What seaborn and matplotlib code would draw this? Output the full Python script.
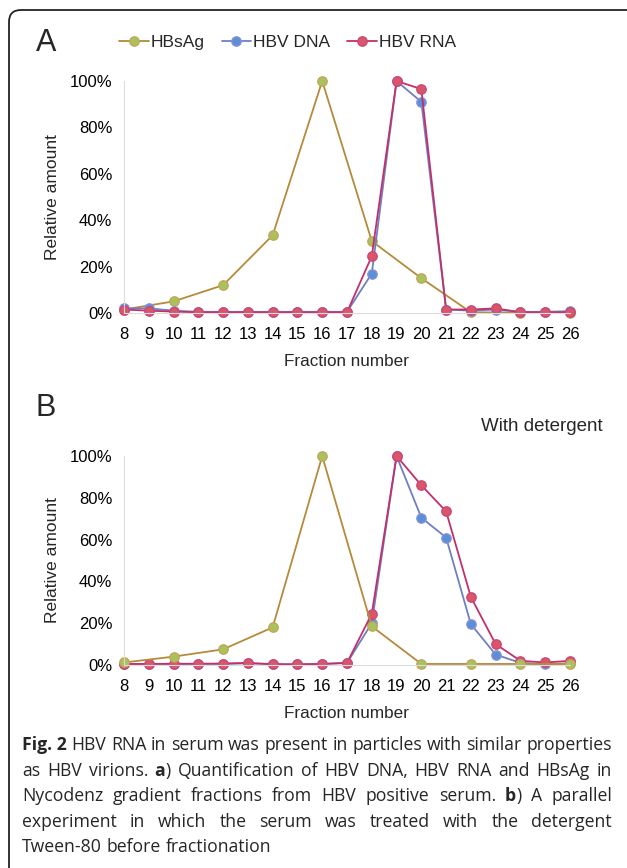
import numpy as np
import pandas as pd
import matplotlib
matplotlib.use("Agg")
import matplotlib.pyplot as plt
from matplotlib.ticker import PercentFormatter
from matplotlib.patches import FancyBboxPatch
from matplotlib.transforms import IdentityTransform
import seaborn as sns

# fractions on the gradient
fractions = list(range(8, 27))
hbsag_fracs = [8, 10, 12, 14, 16, 18, 20, 22, 24, 26]

# panel A: without detergent (relative amount, 1 = 100%)
a_hbsag = [0.015, 0.05, 0.12, 0.335, 1.00, 0.31, 0.15, 0.003, 0.002, 0.002]
a_dna = [0.02, 0.02, 0.01, 0.005, 0.005, 0.005, 0.005, 0.005, 0.005, 0.005,
         0.17, 1.00, 0.91, 0.015, 0.01, 0.015, 0.005, 0.005, 0.008]
a_rna = [0.015, 0.01, 0.006, 0.003, 0.003, 0.003, 0.003, 0.003, 0.003, 0.003,
         0.245, 1.00, 0.965, 0.015, 0.015, 0.02, 0.003, 0.003, 0.003]

# panel B: with detergent
b_hbsag = [0.012, 0.04, 0.075, 0.18, 1.00, 0.185, 0.005, 0.005, 0.005, 0.005]
b_dna = [0.005, 0.005, 0.005, 0.005, 0.005, 0.008, 0.005, 0.003, 0.005, 0.01,
         0.20, 1.00, 0.705, 0.61, 0.195, 0.05, 0.01, 0.003, 0.008]
b_rna = [0.005, 0.005, 0.006, 0.006, 0.007, 0.01, 0.003, 0.003, 0.005, 0.01,
         0.245, 1.00, 0.86, 0.735, 0.325, 0.10, 0.02, 0.012, 0.02]

series_names = ["HBsAg", "HBV DNA", "HBV RNA"]
line_col = {"HBsAg": "#b58a3a", "HBV DNA": "#6f7fc4", "HBV RNA": "#c2306c"}
face_col = {"HBsAg": "#a9c25e", "HBV DNA": "#5b8fd6", "HBV RNA": "#d9566a"}
edge_col = {"HBsAg": "#c4a457", "HBV DNA": "#8a94d2", "HBV RNA": "#c8457a"}

sns.set_style("white")
plt.rcParams["font.family"] = ["Liberation Sans", "DejaVu Sans"]

W, H = 627, 868
fig = plt.figure(figsize=(W / 100, H / 100), dpi=100)


def frame(left, right, top, bottom):
    return [left / W, 1 - bottom / H, (right - left) / W, (bottom - top) / H]


def draw_panel(ax, data, order):
    for name in order:
        x, y = data[name]
        df = pd.DataFrame({"fraction": x, "amount": y})
        sns.lineplot(data=df, x="fraction", y="amount", ax=ax,
                     color=line_col[name], lw=1.3, marker="o", markersize=6.8,
                     markerfacecolor=face_col[name], markeredgecolor=edge_col[name],
                     markeredgewidth=0.9, clip_on=False, label=name, legend=False)
    ax.set_xlim(8, 26)
    ax.set_ylim(0, 1)
    ax.set_xticks(fractions)
    ax.set_yticks(np.arange(0, 1.01, 0.2))
    ax.yaxis.set_major_formatter(PercentFormatter(1.0, decimals=0))
    ax.tick_params(axis="both", length=0, labelsize=12, colors="black")
    ax.tick_params(axis="x", pad=10)
    ax.tick_params(axis="y", pad=8.5)
    for s in ["top", "right"]:
        ax.spines[s].set_visible(False)
    for s in ["left", "bottom"]:
        ax.spines[s].set_color("#dcdcdc")
        ax.spines[s].set_linewidth(0.8)
    ax.set_xlabel("Fraction number", fontsize=12.3, labelpad=9)
    ax.set_ylabel("Relative amount", fontsize=12.5, labelpad=7)


ax_a = fig.add_axes(frame(124, 570, 81, 313))
data_a = {"HBsAg": (hbsag_fracs, a_hbsag), "HBV DNA": (fractions, a_dna),
          "HBV RNA": (fractions, a_rna)}
draw_panel(ax_a, data_a, ["HBsAg", "HBV DNA", "HBV RNA"])

ax_b = fig.add_axes(frame(124, 570, 456, 665))
data_b = {"HBsAg": (hbsag_fracs, b_hbsag), "HBV DNA": (fractions, b_dna),
          "HBV RNA": (fractions, b_rna)}
draw_panel(ax_b, data_b, ["HBV DNA", "HBV RNA", "HBsAg"])

# legend on top of panel A
handles = {l.get_label(): l for l in ax_a.get_lines()}
fig.legend([handles[n] for n in series_names], series_names, loc="center left",
           bbox_to_anchor=(119 / W, 1 - 42 / H), ncol=3, frameon=False,
           fontsize=12.5, handlelength=1.7, handletextpad=0.1, columnspacing=1.0,
           borderaxespad=0, borderpad=0)

fig.text(36 / W, 1 - 43 / H, "A", fontsize=22, va="center", ha="left")
fig.text(36 / W, 1 - 408 / H, "B", fontsize=22, va="center", ha="left")
fig.text(603 / W, 1 - 426 / H, "With detergent", fontsize=13.5, va="center", ha="right")

# caption, justified like the journal layout
cap_lines = [
    [[("Fig. 2", True)], [("HBV", False)], [("RNA", False)], [("in", False)],
     [("serum", False)], [("was", False)], [("present", False)], [("in", False)],
     [("particles", False)], [("with", False)], [("similar", False)],
     [("properties", False)]],
    [[("as", False)], [("HBV", False)], [("virions.", False)], [("a", True), (")", False)],
     [("Quantification", False)], [("of", False)], [("HBV", False)], [("DNA,", False)],
     [("HBV", False)], [("RNA", False)], [("and", False)], [("HBsAg", False)], [("in", False)]],
    [[("Nycodenz", False)], [("gradient", False)], [("fractions", False)], [("from", False)],
     [("HBV", False)], [("positive", False)], [("serum.", False)], [("b", True), (")", False)],
     [("A", False)], [("parallel", False)]],
    [[("experiment", False)], [("in", False)], [("which", False)], [("the", False)],
     [("serum", False)], [("was", False)], [("treated", False)], [("with", False)],
     [("the", False)], [("detergent", False)]],
    [[("Tween-80", False)], [("before", False)], [("fractionation", False)]],
]
cap_y = [745, 771, 796, 822, 847]
cap_left, cap_right = 22, 612
cap_font = ["Open Sans", "DejaVu Sans"]

fig.canvas.draw()
renderer = fig.canvas.get_renderer()


def piece_width(text, bold, size):
    t = fig.text(0, 0, text, fontsize=size, family=cap_font,
                 fontweight="bold" if bold else "normal")
    w = t.get_window_extent(renderer).width
    t.remove()
    return w


def natural_width(words, size):
    sp = piece_width("a a", False, size) - 2 * piece_width("a", False, size)
    total = sum(piece_width(p, b, size) for word in words for p, b in word)
    return total + sp * (len(words) - 1)


# pick the size at which the widest line just fits
ref = 10.0
widest = max(natural_width(words, ref) for words in cap_lines[:-1])
cap_size = ref * (cap_right - cap_left - 2) / widest

space_w = piece_width("a a", False, cap_size) - 2 * piece_width("a", False, cap_size)
for i, (words, yy) in enumerate(zip(cap_lines, cap_y)):
    widths = [[piece_width(p, b, cap_size) for p, b in word] for word in words]
    total = sum(sum(w) for w in widths)
    if i < len(cap_lines) - 1:
        gap = (cap_right - cap_left - total) / (len(words) - 1)
    else:
        gap = space_w
    x = cap_left
    for word, ws in zip(words, widths):
        for (p, b), w in zip(word, ws):
            fig.text(x / W, 1 - yy / H, p, fontsize=cap_size, family=cap_font,
                     fontweight="bold" if b else "normal", va="center", ha="left")
            x += w
        x += gap

# rounded frame: only the top and left edges fall inside the image
box = FancyBboxPatch((9, -20), 660, 878, boxstyle="round,pad=0,rounding_size=12",
                     transform=IdentityTransform(), fill=False, ec="#222222", lw=1.3)
fig.add_artist(box)

fig.savefig("out.png", dpi=100)
